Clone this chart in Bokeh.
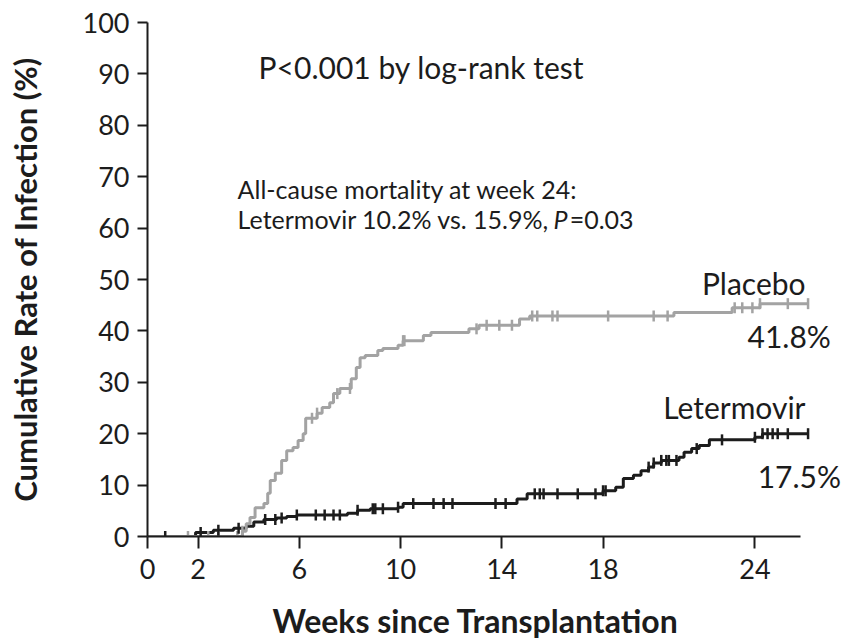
import numpy as np
from bokeh.plotting import figure
from bokeh.models import Range1d, FixedTicker, Label, Title
from bokeh.embed import file_html
from bokeh.resources import INLINE

# ---- data ----
x_ticks = [0, 2, 6, 10, 14, 18, 24]
y_ticks = [0, 10, 20, 30, 40, 50, 60, 70, 80, 90, 100]

placebo_t = [0, 3.75, 3.9, 4.05, 4.25, 4.6, 4.75, 4.85, 5.05, 5.3, 5.5, 5.75, 5.95,
             6.15, 6.25, 6.7, 6.9, 7.2, 7.35, 7.6, 8.05, 8.25, 8.4, 8.6, 9.1, 9.3,
             9.9, 10.1, 10.9, 11.2, 12.7, 13.1, 14.7, 15.1, 20.8, 23.1, 24.2, 26.1]
placebo_y = [0, 1.0, 2.5, 3.7, 5.6, 6.4, 8.4, 10.9, 12.3, 14.8, 16.7, 17.3, 18.7,
             20.0, 23.0, 24.0, 25.1, 26.0, 27.8, 28.8, 30.7, 32.9, 34.8, 35.2, 36.2, 36.6,
             37.2, 38.1, 39.1, 39.7, 40.4, 41.1, 42.3, 42.9, 43.6, 44.5, 45.3, 45.3]
placebo_censor = [1.6, 2.4, 2.8, 3.55, 3.75, 6.5, 6.7, 7.5, 8.0, 10.1, 10.15, 13.0,
                  13.4, 13.9, 14.4, 15.2, 15.4, 16.0, 16.2, 18.2, 20.0, 20.55, 23.2,
                  23.5, 23.9, 24.2, 25.3, 26.1]

leter_t = [0, 1.9, 2.6, 3.4, 3.9, 4.2, 4.6, 5.1, 5.5, 5.9, 7.9, 8.3, 8.8, 9.9, 10.1,
           14.6, 15.0, 18.0, 18.5, 18.8, 19.2, 19.5, 19.8, 20.0, 20.3, 21.0, 21.2,
           21.5, 21.8, 22.2, 24.0, 24.3, 26.1]
leter_y = [0, 0.8, 1.2, 1.6, 2.0, 2.8, 3.3, 3.6, 3.9, 4.2, 4.5, 5.1, 5.4, 5.7, 6.4,
           7.3, 8.3, 8.9, 9.6, 11.3, 11.9, 12.8, 13.5, 14.3, 14.8, 15.4, 16.4,
           17.1, 17.7, 18.8, 19.3, 20.0, 20.0]
leter_censor = [0.7, 2.1, 2.8, 3.6, 4.65, 5.05, 5.3, 5.9, 6.65, 7.0, 7.35, 7.6, 8.3,
                8.9, 9.0, 9.3, 9.9, 10.5, 11.3, 11.7, 12.05, 13.75, 14.15, 15.3, 15.5,
                15.65, 16.2, 17.0, 17.7, 18.0, 18.1, 19.8, 20.0, 20.3, 20.5, 20.6,
                20.9, 21.7, 22.7, 24.0, 24.3, 24.5, 24.7, 24.9, 25.3, 26.1]


def step_at(times, vals, pts):
    times = np.asarray(times)
    vals = np.asarray(vals)
    idx = np.searchsorted(times, np.asarray(pts), side="right") - 1
    return vals[np.clip(idx, 0, len(vals) - 1)]


GREY = "#a3a3a3"
BLACK = "#1c1c1c"
FONT = "Lato"

p = figure(width=843, height=644, output_backend="svg", toolbar_location=None,
           x_range=Range1d(0, 27.5), y_range=Range1d(0, 100),
           min_border_left=147, min_border_right=0, min_border_top=22,
           min_border_bottom=0)
p.frame_height = 514
p.outline_line_color = None
p.grid.visible = False
p.background_fill_color = "white"
p.border_fill_color = "white"

p.step(leter_t, leter_y, mode="after", line_color=BLACK, line_width=3)
p.step(placebo_t, placebo_y, mode="after", line_color=GREY, line_width=3)
p.scatter(placebo_censor, step_at(placebo_t, placebo_y, placebo_censor),
          marker="dash", angle=np.pi / 2, size=11, line_color=GREY, line_width=2.5)
p.scatter(leter_censor, step_at(leter_t, leter_y, leter_censor),
          marker="dash", angle=np.pi / 2, size=11, line_color=BLACK, line_width=2.5)

for ax in (p.xaxis[0], p.yaxis[0]):
    ax.axis_line_color = BLACK
    ax.axis_line_width = 2
    ax.major_tick_line_color = BLACK
    ax.major_tick_line_width = 2
    ax.major_tick_in = 0
    ax.minor_tick_line_color = None
    ax.major_label_text_font = FONT
    ax.major_label_text_font_size = "27px"
    ax.major_label_text_color = BLACK
    ax.axis_label_text_font = FONT
    ax.axis_label_text_font_style = "bold"
    ax.axis_label_text_color = BLACK

p.xaxis.bounds = (0, 25.8)
p.xaxis.ticker = FixedTicker(ticks=x_ticks)
p.yaxis.ticker = FixedTicker(ticks=y_ticks)
p.xaxis.major_tick_out = 12
p.yaxis.major_tick_out = 10
p.xaxis.major_label_standoff = 10
p.yaxis.major_label_standoff = 8
p.yaxis.axis_label = "Cumulative Rate of Infection (%)"
p.yaxis.axis_label_text_font_size = "31px"
p.yaxis.axis_label_standoff = 36

xtitle = Title(text="Weeks since Transplantation", align="left", offset=125,
               text_font=FONT, text_font_style="bold", text_font_size="32px",
               text_color=BLACK, standoff=34)
p.add_layout(xtitle, "below")

labels = [
    ("P<0.001 by log-rank test", 4.39, 91.4, "left", "normal", "30px"),
    ("All-cause mortality at week 24:", 3.56, 67.7, "left", "normal", "25px"),
    ("Letermovir 10.2% vs. 15.9%,", 3.56, 61.8, "left", "normal", "25px"),
    ("P", 16.6, 61.8, "right", "italic", "25px"),
    ("=0.03", 16.68, 61.8, "left", "normal", "25px"),
    ("Placebo", 26.0, 49.4, "right", "normal", "30px"),
    ("41.8%", 27.0, 39.1, "right", "normal", "30px"),
    ("Letermovir", 26.0, 25.2, "right", "normal", "30px"),
    ("17.5%", 27.4, 11.8, "right", "normal", "30px"),
]
for txt, lx, ly, align, style, size in labels:
    p.add_layout(Label(x=lx, y=ly, text=txt, text_align=align,
                       text_baseline="alphabetic", text_font=FONT,
                       text_font_style=style, text_font_size=size,
                       text_color=BLACK))

open("out.html", "w").write(file_html(p, INLINE))
